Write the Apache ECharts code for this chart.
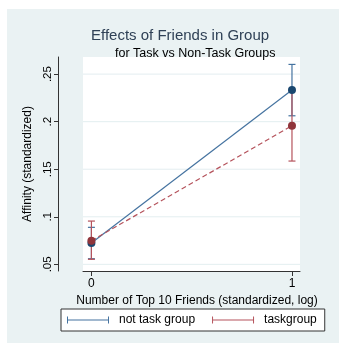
<!DOCTYPE html>
<html><head><meta charset="utf-8">
<script src="https://cdn.jsdelivr.net/npm/echarts@6/dist/echarts.min.js"></script>
<style>html,body{margin:0;padding:0;background:#fff}#c{width:339px;height:343px}</style>
</head><body><div id="c"></div>
<script>
// ---- data ----
const xTicks = [0, 1];
const xTickLabels = ['0', '1'];
const yTicks = [0.05, 0.10, 0.15, 0.20, 0.25];
const yTickLabels = ['.05', '.1', '.15', '.2', '.25'];
const seriesNames = ['not task group', 'taskgroup'];
const notTaskMean = [0.0724, 0.2332];
const notTaskLow  = [0.0559, 0.2062];
const notTaskHigh = [0.0889, 0.2602];
const taskMean = [0.0748, 0.1957];
const taskLow  = [0.0553, 0.1586];
const taskHigh = [0.0955, 0.2328];

const X_MIN = -0.042, X_MAX = 1.04, Y_MIN = 0.043, Y_MAX = 0.268;
const FONT = '"Liberation Sans", Arial, sans-serif';
const BLUE_M = '#1a476f', BLUE_L = '#4573a0';
const RED_M = '#90353b', RED_L = '#b5535c';
const ICON = 'path://M0,0h1v7h-1zM0,3h42v1h-42zM41,0h1v7h-1z';

function labelFor(list, labels, v) {
  const i = list.findIndex(t => Math.abs(t - v) < 1e-9);
  return i >= 0 ? labels[i] : '';
}
function errRender(color) {
  return function (params, api) {
    const x = api.value(0), lo = api.value(1), hi = api.value(2);
    const p1 = api.coord([x, lo]), p2 = api.coord([x, hi]);
    const cw = 3.5;
    const st = { stroke: color, lineWidth: 1.2 };
    return { type: 'group', children: [
      { type: 'line', shape: { x1: p1[0], y1: p1[1], x2: p2[0], y2: p2[1] }, style: st },
      { type: 'line', shape: { x1: p1[0] - cw, y1: p1[1], x2: p1[0] + cw, y2: p1[1] }, style: st },
      { type: 'line', shape: { x1: p2[0] - cw, y1: p2[1], x2: p2[0] + cw, y2: p2[1] }, style: st }
    ]};
  };
}

const chart = echarts.init(document.getElementById('c'), null, { renderer: 'canvas' });
chart.setOption({
  animation: false,
  backgroundColor: '#eaf2f3',
  textStyle: { fontFamily: FONT },
  graphic: [
    { type: 'rect', shape: { x: 0, y: 0, width: 339, height: 9 }, style: { fill: '#fff' }, silent: true },
    { type: 'rect', shape: { x: 0, y: 0, width: 7, height: 343 }, style: { fill: '#fff' }, silent: true }
  ],
  title: [
    { text: 'Effects of Friends in Group', left: 86, top: 23,
      textStyle: { fontSize: 15, fontWeight: 'normal', color: '#2f4156', fontFamily: FONT } },
    { text: 'for Task vs Non-Task Groups', left: 110, top: 42,
      textStyle: { fontSize: 12.5, fontWeight: 'normal', color: '#000', fontFamily: FONT } }
  ],
  grid: { left: 83, right: 39, top: 57, bottom: 72, show: true, backgroundColor: '#fff', borderWidth: 0 },
  xAxis: {
    type: 'value', min: X_MIN, max: X_MAX,
    name: 'Number of Top 10 Friends (standardized, log)', nameLocation: 'middle', nameGap: 21,
    nameTextStyle: { fontSize: 12, color: '#000', fontFamily: FONT, padding: [0, 0, 0, 11] },
    axisLine: { onZero: false, lineStyle: { color: '#333', width: 1 } },
    axisTick: { show: true, length: 5, customValues: xTicks, lineStyle: { color: '#333' } },
    axisLabel: { customValues: xTicks, margin: 7, fontSize: 12, color: '#000', fontFamily: FONT,
      formatter: v => labelFor(xTicks, xTickLabels, v) },
    splitLine: { show: false }
  },
  yAxis: {
    type: 'value', min: Y_MIN, max: Y_MAX, offset: 25,
    name: 'Affinity (standardized)', nameLocation: 'middle', nameGap: 18,
    nameTextStyle: { fontSize: 12, color: '#000', fontFamily: FONT },
    axisLine: { show: true, onZero: false, lineStyle: { color: '#333', width: 1 } },
    axisTick: { show: true, length: 4, customValues: yTicks, lineStyle: { color: '#333' } },
    axisLabel: { customValues: yTicks, rotate: 90, margin: 4, fontSize: 11.5, color: '#000', fontFamily: FONT,
      formatter: v => labelFor(yTicks, yTickLabels, v) },
    splitLine: { show: false }
  },
  legend: {
    left: 61, top: 309, orient: 'horizontal',
    backgroundColor: '#fff', borderColor: '#333', borderWidth: 1, borderRadius: 0,
    padding: [5, 8, 5, 6], itemGap: 17, itemWidth: 42, itemHeight: 7,
    textStyle: { fontSize: 12, color: '#000', fontFamily: FONT, padding: [0, 0, 0, 5] },
    data: [
      { name: seriesNames[0], icon: ICON, itemStyle: { color: BLUE_L, borderWidth: 0 } },
      { name: seriesNames[1], icon: ICON, itemStyle: { color: RED_L, borderWidth: 0 } }
    ]
  },
  series: [
    { type: 'custom', name: 'grid', silent: true, z: 1,
      data: yTicks.map(v => [X_MIN, v]), encode: { x: 0, y: 1 },
      renderItem: (params, api) => {
        const y = api.coord([X_MIN, api.value(1)])[1];
        const cs = params.coordSys;
        return { type: 'line', shape: { x1: cs.x, y1: y, x2: cs.x + cs.width, y2: y },
          style: { stroke: '#e3eef0', lineWidth: 1 } };
      } },
    { type: 'custom', name: 'ci_nt', silent: true, z: 2,
      data: xTicks.map((x, i) => [x, notTaskLow[i], notTaskHigh[i]]), encode: { x: 0, y: [1, 2] },
      renderItem: errRender(BLUE_L) },
    { type: 'custom', name: 'ci_t', silent: true, z: 3,
      data: xTicks.map((x, i) => [x, taskLow[i], taskHigh[i]]), encode: { x: 0, y: [1, 2] },
      renderItem: errRender(RED_L) },
    { type: 'line', name: seriesNames[0], z: 4,
      data: xTicks.map((x, i) => [x, notTaskMean[i]]),
      symbol: 'circle', symbolSize: 8, showSymbol: true,
      itemStyle: { color: BLUE_M },
      lineStyle: { color: BLUE_L, width: 1.2 } },
    { type: 'line', name: seriesNames[1], z: 5,
      data: xTicks.map((x, i) => [x, taskMean[i]]),
      symbol: 'circle', symbolSize: 8, showSymbol: true,
      itemStyle: { color: RED_M },
      lineStyle: { color: RED_L, width: 1.2, type: [5, 3] } }
  ]
});
</script></body></html>
